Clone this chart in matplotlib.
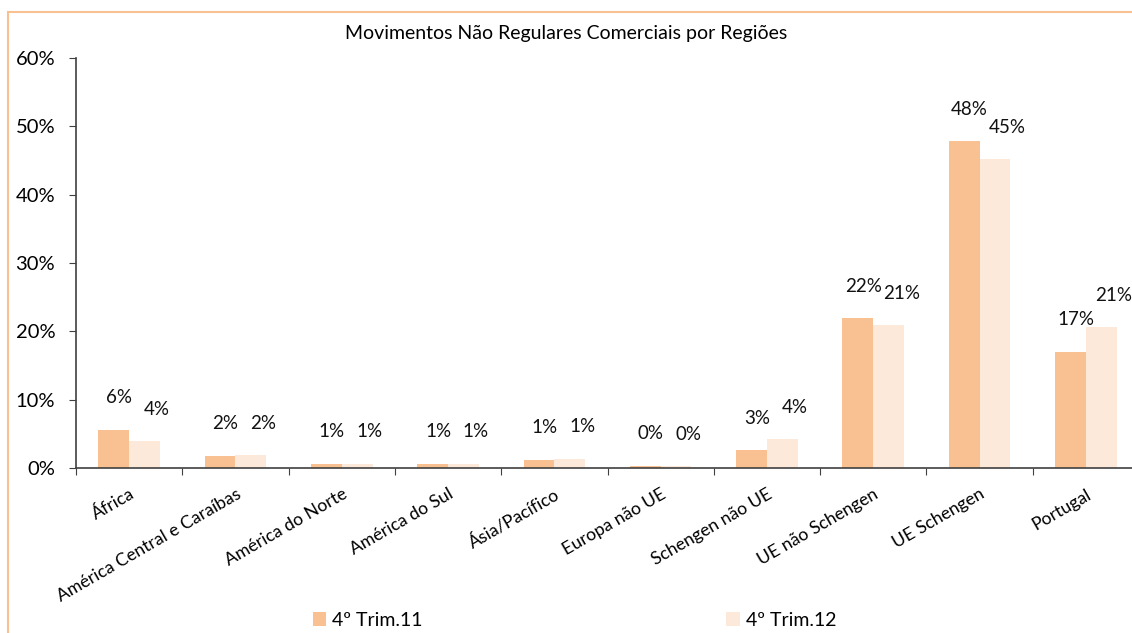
import numpy as np
import matplotlib.pyplot as plt
from matplotlib.patches import Rectangle

plt.rcParams['font.family'] = ['Lato', 'DejaVu Sans']

regioes = ['África', 'América Central e Caraíbas', 'América do Norte', 'América do Sul',
           'Ásia/Pacífico', 'Europa não UE', 'Schengen não UE', 'UE não Schengen',
           'UE Schengen', 'Portugal']
trim11 = [5.6, 1.8, 0.6, 0.6, 1.2, 0.35, 2.6, 21.9, 47.8, 17.0]
trim12 = [3.9, 1.85, 0.6, 0.6, 1.35, 0.25, 4.25, 20.9, 45.2, 20.6]
series = ['4º Trim.11', '4º Trim.12']
cores = ['#F9C091', '#FDE9DA']

fig = plt.figure(figsize=(11.32, 6.33), dpi=100)
ax = fig.add_axes([76 / 1132, 165 / 633, 1063 / 1132, 410 / 633])

x = np.arange(len(regioes))
w = 0.29
b1 = ax.bar(x - w / 2, trim11, w, color=cores[0], label=series[0])
b2 = ax.bar(x + w / 2, trim12, w, color=cores[1], label=series[1])

# rótulos ligeiramente deslocados para a direita, como no original
for bars, vals, dx in [(b1, trim11, 4), (b2, trim12, 9)]:
    for r, v in zip(bars, vals):
        ax.annotate(f'{v:.0f}%', (r.get_x() + r.get_width() / 2, v),
                    xytext=(dx, 23), textcoords='offset points',
                    ha='center', va='center', fontsize=13.5, color='#111111',
                    annotation_clip=False)

ax.set_xlim(-0.5, len(regioes) - 0.5)
ax.set_ylim(0, 60)
ax.set_yticks(range(0, 61, 10))
ax.set_yticklabels([f'{t}%' for t in range(0, 61, 10)], fontsize=14.5)
ax.set_xticks(np.arange(len(regioes) + 1) - 0.5)
ax.set_xticklabels([])
ax.set_xticks(x, minor=True)
ax.set_xticklabels(regioes, minor=True, rotation=30, ha='right',
                   rotation_mode='anchor', fontsize=12.7)
ax.tick_params(axis='x', which='minor', length=0, pad=13)
ax.tick_params(axis='x', which='major', length=5, direction='out', color='#404040')
ax.tick_params(axis='y', length=5, color='#404040', pad=10)

for s in ['top', 'right']:
    ax.spines[s].set_visible(False)
for s in ['left', 'bottom']:
    ax.spines[s].set_color('#404040')
    ax.spines[s].set_linewidth(1.2)

fig.text(566 / 1132, 1 - 33 / 633, 'Movimentos Não Regulares Comerciais por Regiões',
         ha='center', va='center', fontsize=14)

fig.legend(loc='center', bbox_to_anchor=(0.5075, 1 - 620 / 633), ncol=2, frameon=False,
           fontsize=14, handlelength=0.7, handleheight=0.7, handletextpad=0.3,
           columnspacing=15.6)

fig.patches.append(Rectangle((8 / 1132, -0.1), 1.2, 1 - 12 / 633 + 0.1,
                             transform=fig.transFigure, fill=False,
                             edgecolor='#F9C091', linewidth=1.5))

fig.savefig('out.png', dpi=100)
